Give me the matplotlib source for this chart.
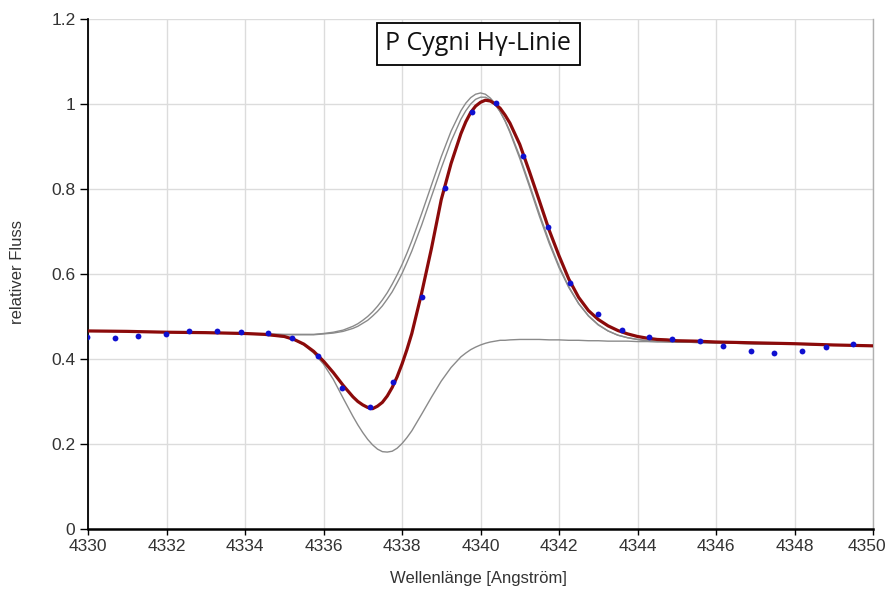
import matplotlib
matplotlib.use('Agg')
import matplotlib.pyplot as plt
import matplotlib.transforms as mtransforms

# ---------------- data ----------------
obs_wavelength = [4329.97, 4330.69, 4331.28, 4331.99, 4332.58, 4333.28, 4333.90, 4334.59,
                  4335.19, 4335.87, 4336.46, 4337.18, 4337.78, 4338.50, 4339.10, 4339.79,
                  4340.39, 4341.09, 4341.71, 4342.29, 4342.99, 4343.60, 4344.29, 4344.89,
                  4345.59, 4346.19, 4346.89, 4347.49, 4348.18, 4348.79, 4349.50]
obs_flux = [0.451, 0.450, 0.453, 0.460, 0.467, 0.467, 0.463, 0.462,
            0.449, 0.406, 0.332, 0.287, 0.347, 0.545, 0.803, 0.982,
            1.002, 0.878, 0.711, 0.580, 0.505, 0.468, 0.451, 0.446,
            0.442, 0.431, 0.419, 0.413, 0.419, 0.429, 0.435]

curve_wavelength = [4330, 4331, 4332, 4333, 4334, 4334.5,
                    4335, 4335.25, 4335.5, 4335.75,
                    4336, 4336.25, 4336.5, 4336.75, 4336.875,
                    4337, 4337.125, 4337.25, 4337.375, 4337.5, 4337.625, 4337.75, 4337.875,
                    4338, 4338.125, 4338.25, 4338.5, 4338.75,
                    4339, 4339.25, 4339.5, 4339.625, 4339.75, 4339.875,
                    4340, 4340.125, 4340.25, 4340.375, 4340.5, 4340.625, 4340.75,
                    4341, 4341.25, 4341.5, 4341.75,
                    4342, 4342.25, 4342.5, 4342.75,
                    4343, 4343.25, 4343.5, 4343.75,
                    4344, 4344.25, 4344.5, 4344.75,
                    4345, 4345.5, 4346, 4347, 4348, 4349, 4350]

fit_flux = [0.466, 0.465, 0.463, 0.462, 0.460, 0.458,
            0.453, 0.446, 0.435, 0.418,
            0.395, 0.368, 0.338, 0.311, 0.300,
            0.292, 0.286, 0.283, 0.289, 0.298, 0.313, 0.333, 0.358,
            0.388, 0.422, 0.460, 0.555, 0.660,
            0.775, 0.860, 0.930, 0.958, 0.980, 0.995,
            1.004, 1.009, 1.007, 1.000, 0.990, 0.974, 0.955,
            0.905, 0.840, 0.772, 0.703,
            0.643, 0.588, 0.545, 0.514,
            0.493, 0.478, 0.467, 0.459,
            0.453, 0.449, 0.446, 0.445,
            0.443, 0.442, 0.440, 0.438, 0.436, 0.433, 0.431]

emission_outer = [0.466, 0.465, 0.463, 0.462, 0.460, 0.459,
                  0.458, 0.458, 0.458, 0.458,
                  0.460, 0.463, 0.468, 0.477, 0.483,
                  0.491, 0.500, 0.511, 0.524, 0.539, 0.556, 0.576, 0.598,
                  0.622, 0.649, 0.678, 0.742, 0.809,
                  0.876, 0.936, 0.984, 1.002, 1.015, 1.023,
                  1.026, 1.023, 1.014, 1.001, 0.982, 0.960, 0.933,
                  0.872, 0.805, 0.736, 0.672,
                  0.615, 0.568, 0.530, 0.501,
                  0.480, 0.466, 0.456, 0.450,
                  0.446, 0.443, 0.442, 0.441,
                  0.440, 0.439, 0.438, 0.436, 0.435, 0.433, 0.431]

emission_inner = [0.466, 0.465, 0.463, 0.462, 0.460, 0.459,
                  0.457, 0.457, 0.457, 0.457,
                  0.459, 0.461, 0.465, 0.472, 0.477,
                  0.484, 0.491, 0.501, 0.512, 0.525, 0.541, 0.558, 0.579,
                  0.601, 0.627, 0.654, 0.715, 0.782,
                  0.849, 0.912, 0.964, 0.984, 1.000, 1.011,
                  1.016, 1.016, 1.010, 0.998, 0.982, 0.961, 0.936,
                  0.877, 0.810, 0.742, 0.677,
                  0.619, 0.570, 0.531, 0.502,
                  0.481, 0.466, 0.456, 0.450,
                  0.446, 0.443, 0.442, 0.441,
                  0.440, 0.439, 0.438, 0.436, 0.435, 0.433, 0.431]

absorption = [0.466, 0.465, 0.463, 0.462, 0.459, 0.457,
              0.452, 0.445, 0.433, 0.414,
              0.388, 0.352, 0.308, 0.265, 0.245,
              0.227, 0.211, 0.198, 0.188, 0.182, 0.181, 0.183, 0.190,
              0.201, 0.215, 0.231, 0.270, 0.310,
              0.348, 0.380, 0.405, 0.414, 0.422, 0.428,
              0.433, 0.437, 0.440, 0.442, 0.444, 0.444, 0.445,
              0.446, 0.446, 0.446, 0.445,
              0.445, 0.444, 0.444, 0.443,
              0.443, 0.442, 0.442, 0.442,
              0.441, 0.441, 0.440, 0.440,
              0.440, 0.439, 0.438, 0.436, 0.435, 0.433, 0.431]

x_ticks = [4330, 4332, 4334, 4336, 4338, 4340, 4342, 4344, 4346, 4348, 4350]
y_ticks = [0, 0.2, 0.4, 0.6, 0.8, 1.0, 1.2]
y_tick_labels = ['0', '0.2', '0.4', '0.6', '0.8', '1', '1.2']

title = 'P Cygni H\u03b3-Linie'
x_label = 'Wellenl\u00e4nge [Angstr\u00f6m]'
y_label = 'relativer Fluss'

# ---------------- figure ----------------
W, H = 890, 593
fig = plt.figure(figsize=(W / 100, H / 100), dpi=100)
left_px, right_px, top_px, bottom_px = 88, 873, 19, 529
ax = fig.add_axes([left_px / W, 1 - bottom_px / H,
                   (right_px - left_px) / W, (bottom_px - top_px) / H])

ax.set_xlim(4330, 4350)
ax.set_ylim(0, 1.2)
ax.set_xticks(x_ticks)
ax.set_xticklabels([str(t) for t in x_ticks])
ax.set_yticks(y_ticks)
ax.set_yticklabels(y_tick_labels)

ax.grid(True, color='#dcdcdc', linewidth=1.0)
ax.set_axisbelow(True)

gray = '#8a8a8a'
ax.plot(curve_wavelength, emission_outer, color=gray, lw=1.0, zorder=2)
ax.plot(curve_wavelength, emission_inner, color=gray, lw=1.0, zorder=2)
ax.plot(curve_wavelength, absorption, color=gray, lw=1.0, zorder=2)
ax.plot(curve_wavelength, fit_flux, color='#8b0a0a', lw=2.3, zorder=3,
        solid_capstyle='round', solid_joinstyle='round')
ax.plot(obs_wavelength, obs_flux, 'o', color='#1010d0', ms=4.2, mew=0, zorder=4)

# spines
ax.spines['top'].set_visible(False)
ax.spines['right'].set_color('#b0b0b0')
ax.spines['right'].set_linewidth(1.0)
ax.spines['left'].set_color('black')
ax.spines['left'].set_linewidth(1.3)
ax.spines['bottom'].set_color('black')
ax.spines['bottom'].set_linewidth(1.8)

tick_font = ['Liberation Sans', 'DejaVu Sans']
ax.tick_params(axis='both', direction='out', color='black', labelcolor='#333333',
               labelsize=12.5, width=1.0)
ax.tick_params(axis='y', length=6, pad=3)
ax.tick_params(axis='x', length=4, pad=3)
for lab in ax.get_xticklabels() + ax.get_yticklabels():
    lab.set_fontfamily(tick_font)

# keep the last x tick label inside the canvas
last_lab = ax.get_xticklabels()[-1]
last_lab.set_transform(last_lab.get_transform() +
                       mtransforms.ScaledTranslation(-6 / 100, 0, fig.dpi_scale_trans))

ax.set_xlabel(x_label, fontsize=12, family=tick_font, color='#333333', va='center')
ax.xaxis.set_label_coords(0.4975, (bottom_px - 578) / (bottom_px - top_px))
ax.set_ylabel(y_label, fontsize=12, family=tick_font, color='#333333', va='center')
ax.yaxis.set_label_coords((17.5 - left_px) / (right_px - left_px), 0.504)

ax.text(0.497, 0.951, title, transform=ax.transAxes, ha='center', va='center',
        fontsize=18, family=['Open Sans', 'DejaVu Sans'], color='#111111', zorder=6,
        bbox=dict(boxstyle='square,pad=0.34', fc='white', ec='black', lw=1.3))

fig.savefig('out.png', dpi=100, facecolor='white')
